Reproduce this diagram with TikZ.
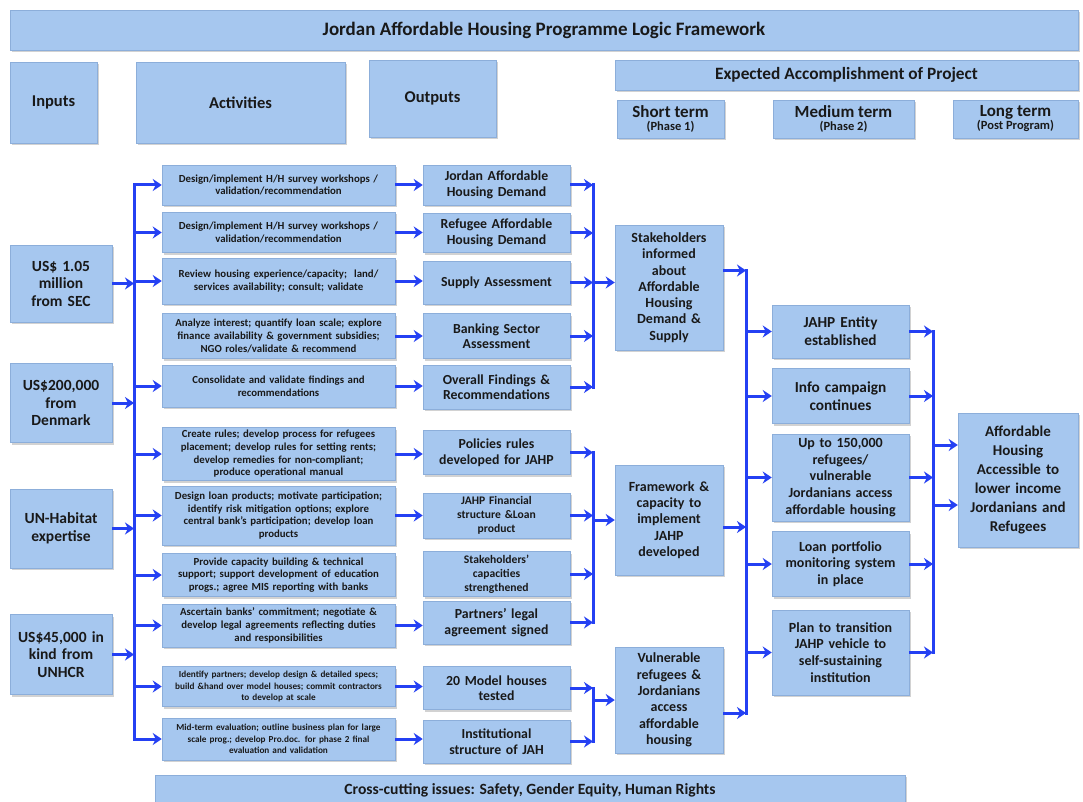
\documentclass[tikz,border=0pt]{standalone}
\usepackage{fontspec}
\setmainfont{Carlito}
\usetikzlibrary{positioning,arrows.meta,shadows}

\definecolor{boxblue}{RGB}{166,199,239}
\definecolor{boxedge}{RGB}{140,174,218}
\definecolor{linkblue}{RGB}{36,64,243}
\definecolor{textgray}{RGB}{25,25,25}
\newcommand{\phasefont}{\bfseries\fontsize{12.5}{13}\selectfont}

\begin{document}
\begin{tikzpicture}[x=1pt, y=-1pt,
  box_style/.style={rectangle, draw=boxedge, line width=0.5pt, fill=boxblue, text=textgray,
    align=center, inner sep=1pt, drop shadow={shadow xshift=1.5pt, shadow yshift=-2pt, opacity=0.35}},
  head_style/.style={box_style, font=\bfseries\fontsize{16.5}{19}\selectfont},
  term_style/.style={box_style, minimum height=38pt, font=\bfseries\fontsize{17}{17}\selectfont},
  input_style/.style={box_style, minimum width=102pt, text width=98pt, font=\bfseries\fontsize{15.5}{17.5}\selectfont},
  act_style/.style={box_style, minimum width=233pt, text width=229pt, font=\bfseries\fontsize{10.8}{12.7}\selectfont},
  act_small/.style={act_style, font=\bfseries\fontsize{9.2}{11.5}\selectfont},
  out_style/.style={box_style, minimum width=147pt, text width=143pt, font=\bfseries\fontsize{13.8}{15.5}\selectfont},
  out_small/.style={out_style, font=\bfseries\fontsize{11.6}{14}\selectfont},
  short_style/.style={box_style, minimum width=108pt, text width=104pt, font=\bfseries\fontsize{14}{16.3}\selectfont},
  mid_style/.style={box_style, minimum width=137pt, text width=133pt, font=\bfseries\fontsize{14}{16.8}\selectfont},
  mid_big/.style={mid_style, font=\bfseries\fontsize{15.3}{18}\selectfont},
  goal_style/.style={box_style, minimum width=120pt, text width=116pt, font=\bfseries\fontsize{15}{19}\selectfont},
  bus_style/.style={draw=linkblue, line width=3pt, line cap=rect},
  arrow_style/.style={draw=linkblue, line width=3pt, -{Stealth[length=9pt,width=12pt]}}]

  \fill [white] (0,0) rectangle (1083,802);
  \useasboundingbox (0,0) rectangle (1083,802);

  % headings
  \node (title) [head_style, font=\bfseries\fontsize{19}{21}\selectfont, minimum width=1068pt, minimum height=40pt] at (544,30) {Jordan Affordable Housing Programme Logic Framework};
  \node (h_in) [head_style, minimum width=87pt, minimum height=81pt] at (53.5,102.5) {Inputs};
  \node (h_act) [head_style, minimum width=209pt, minimum height=81pt] at (240.5,102.5) {Activities};
  \node (h_out) [head_style, minimum width=127pt, minimum height=77pt] at (432.5,98.5) {Outputs};
  \node (h_exp) [head_style, font=\bfseries\fontsize{17.3}{19}\selectfont, minimum width=463pt, minimum height=30pt] at (846.5,75) {Expected Accomplishment of Project};
  \node (h_short) [term_style, minimum width=107pt] at (670.5,119) {Short term\\[-4pt]{\phasefont (Phase 1)}};
  \node (h_mid) [term_style, minimum width=141pt] at (843.5,119) {Medium term\\[-4pt]{\phasefont (Phase 2)}};
  \node (h_long) [term_style, minimum width=125pt] at (1015.5,119) {Long term\\[-4pt]{\phasefont (Post Program)}};
  %
  % inputs
  \node (i1) [input_style, minimum height=77pt] at (61,283.5) {US\$ 1.05\\ million\\ from SEC};
  \node (i2) [input_style, minimum height=79pt, below=41pt of i1] {US\$200,000\\ from\\ Denmark};
  \node (i3) [input_style, minimum height=79pt, below=46pt of i2] {UN-Habitat\\ expertise};
  \node (i4) [input_style, minimum height=80pt, below=46pt of i3] {US\$45,000 in\\ kind from\\ UNHCR};
  %
  % activities
  \node (a1) [act_style, minimum height=40pt] at (278.5,185) {Design/implement H/H survey workshops /\\ validation/recommendation};
  \node (a2) [act_style, minimum height=40pt, below=7pt of a1] {Design/implement H/H survey workshops /\\ validation/recommendation};
  \node (a3) [act_style, minimum height=46pt, below=5pt of a2] {Review housing experience/capacity;\ \ land/\\ services availability; consult; validate};
  \node (a4) [act_style, minimum height=45pt, below=9pt of a3] {Analyze interest; quantify loan scale; explore\\ finance availability \& government subsidies;\\ NGO roles/validate \& recommend};
  \node (a5) [act_style, minimum height=42pt, below=6pt of a4] {Consolidate and validate findings and\\ recommendations};
  \node (a6) [act_style, minimum height=53pt, below=20pt of a5] {Create rules; develop process for refugees\\ placement; develop rules for setting rents;\\ develop remedies for non-compliant;\\ produce operational manual};
  \node (a7) [act_style, minimum height=59pt, below=5pt of a6] {Design loan products; motivate participation;\\ identify risk mitigation options; explore\\ central bank's participation; develop loan\\ products};
  \node (a8) [act_style, minimum height=43pt, below=8pt of a7] {Provide capacity building \& technical\\ support; support development of education\\ progs.; agree MIS reporting with banks};
  \node (a9) [act_style, minimum height=43pt, below=7pt of a8] {Ascertain banks' commitment; negotiate \&\\ develop legal agreements reflecting duties\\ and responsibilities};
  \node (a10) [act_small, minimum height=40pt, below=19pt of a9] {Identify partners; develop design \& detailed specs;\\ build \&hand over model houses; commit contractors\\ to develop at scale};
  \node (a11) [act_small, minimum height=42pt, below=11pt of a10] {Mid-term evaluation; outline business plan for large\\ scale prog.; develop Pro.doc. for phase 2 final\\ evaluation and validation};
  %
  % outputs
  \node (o1) [out_style, minimum height=40pt] at (496.5,185) {Jordan Affordable\\ Housing Demand};
  \node (o2) [out_style, minimum height=39pt, below=8pt of o1] {Refugee Affordable\\ Housing Demand};
  \node (o3) [out_style, minimum height=43pt, below=8pt of o2] {Supply Assessment};
  \node (o4) [out_style, minimum height=45pt, below=9pt of o3] {Banking Sector\\ Assessment};
  \node (o5) [out_style, minimum height=44pt, below=6pt of o4] {Overall Findings \&\\ Recommendations};
  \node (o6) [out_style, minimum height=44pt, below=21pt of o5] {Policies rules\\ developed for JAHP};
  \node (o7) [out_small, minimum height=45pt, below=18pt of o6] {JAHP Financial\\ structure \&Loan\\ product};
  \node (o8) [out_small, minimum height=45pt, below=13pt of o7] {Stakeholders'\\ capacities\\ strengthened};
  \node (o9) [out_style, minimum height=43pt, below=4pt of o8] {Partners' legal\\ agreement signed};
  \node (o10) [out_style, minimum height=43pt, below=22pt of o9] {20 Model houses\\ tested};
  \node (o11) [out_style, minimum height=43pt, below=10pt of o10] {Institutional\\ structure of JAH};
  %
  % short, medium and long term
  \node (s1) [short_style, minimum height=125pt] at (669,287.5) {Stakeholders\\ informed\\ about\\ Affordable\\ Housing\\ Demand \&\\ Supply};
  \node (s2) [short_style, minimum height=110pt] at (669,520) {Framework \&\\ capacity to\\ implement\\ JAHP\\ developed};
  \node (s3) [short_style, minimum height=106pt] at (669,700) {Vulnerable\\ refugees \&\\ Jordanians\\ access\\ affordable\\ housing};
  \node (m1) [mid_big, minimum height=53pt] at (840.5,331.5) {JAHP Entity\\ established};
  \node (m2) [mid_big, minimum height=55pt, below=10pt of m1] {Info campaign\\ continues};
  \node (m3) [mid_style, minimum height=87pt, below=10pt of m2] {Up to 150,000\\ refugees/\\ vulnerable\\ Jordanians access\\ affordable housing};
  \node (m4) [mid_style, minimum height=65pt, below=10pt of m3] {Loan portfolio\\ monitoring system\\ in place};
  \node (m5) [mid_style, minimum height=85pt, below=13pt of m4] {Plan to transition\\ JAHP vehicle to\\ self-sustaining\\ institution};
  \node (goal) [goal_style, minimum height=134pt] at (1018,480) {Affordable\\ Housing\\ Accessible to\\ lower income\\ Jordanians and\\ Refugees};
  %
  \node (cross) [box_style, font=\bfseries\fontsize{15.6}{17}\selectfont, minimum width=750pt, minimum height=30pt] at (530,790) {Cross-cutting issues: Safety, Gender Equity, Human Rights};

  % buses
  \coordinate (bus_in) at (134,0);
  \coordinate (bus_out) at (593,0);
  \coordinate (bus_short) at (746,0);
  \coordinate (bus_mid) at (933,0);
  \coordinate (s1_out) at ([yshift=17pt]s1.east);
  \coordinate (s2_out) at ([yshift=-7pt]s2.east);
  \coordinate (s3_out) at ([yshift=-13pt]s3.east);
  \coordinate (goal_in1) at ([yshift=35pt]goal.west);
  \coordinate (goal_in2) at ([yshift=-25pt]goal.west);

  \draw [bus_style] (bus_in |- a1) -- (bus_in |- a11);
  \draw [bus_style] (bus_out |- o1) -- (bus_out |- o5);
  \draw [bus_style] (bus_out |- o6) -- (bus_out |- o9);
  \draw [bus_style] (bus_out |- o10) -- (bus_out |- o11);
  \draw [bus_style] (bus_short |- s1_out) -- (bus_short |- s3_out);
  \draw [bus_style] (bus_mid |- m1) -- (bus_mid |- m5);
  %
  \foreach \n in {1,...,4}
    \draw [arrow_style] (i\n.east) -- (i\n.east -| bus_in);
  \foreach \n in {1,2,3,5,6,7,8,9,10,11}
    \draw [arrow_style] (bus_in |- a\n) -- (a\n.west);
  \foreach \n in {1,2,3,4,5,6,7,9,10,11}
    \draw [arrow_style] (a\n.east) -- (a\n.east -| o\n.west);
  \foreach \n in {1,...,11}
    \draw [arrow_style] (o\n.east) -- (o\n.east -| bus_out);
  \draw [arrow_style] (bus_out |- o3) -- (o3 -| s1.west);
  \draw [arrow_style] (bus_out |- s2) -- (s2.west);
  \draw [arrow_style] (bus_out |- s3) -- (s3.west);
  \foreach \n in {1,2,3}
    \draw [arrow_style] (s\n_out) -- (s\n_out -| bus_short);
  \foreach \n in {1,...,5} {
    \draw [arrow_style] (bus_short |- m\n) -- (m\n.west);
    \draw [arrow_style] (m\n.east) -- (m\n.east -| bus_mid);
  }
  \draw [arrow_style] (bus_mid |- goal_in1) -- (goal_in1);
  \draw [arrow_style] (bus_mid |- goal_in2) -- (goal_in2);
\end{tikzpicture}
\end{document}
